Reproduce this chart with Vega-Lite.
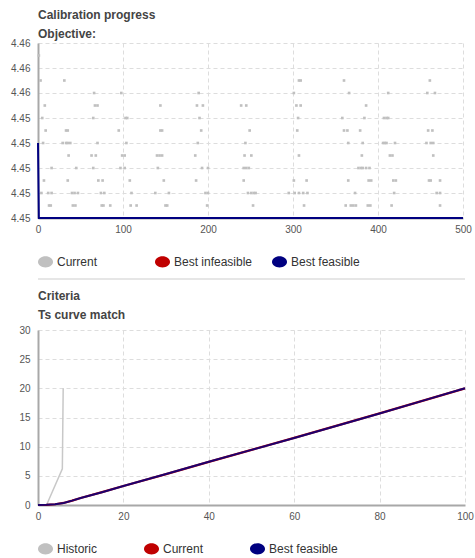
{
  "$schema": "https://vega.github.io/schema/vega-lite/v6.json",
  "padding": {"left": 10, "top": 9, "right": 5, "bottom": 0},
  "background": "white",
  "config": {
    "font": "Liberation Sans",
    "view": {"stroke": null},
    "title": {"anchor": "start", "frame": "group", "fontSize": 12, "fontWeight": "bold", "color": "#444444", "subtitleFontSize": 12, "subtitleFontWeight": "bold", "subtitleColor": "#444444", "subtitleFont": "Liberation Sans", "subtitlePadding": 7, "offset": 5},
    "axis": {"title": null, "ticks": false, "labelColor": "#555555", "labelFontSize": 10, "labelOverlap": false, "labelFlush": false, "gridColor": "#dddddd", "gridDash": [4, 3], "gridWidth": 1, "domainColor": "#a8a8a8", "domainWidth": 2},
    "axisX": {"labelPadding": 6},
    "axisY": {"labelPadding": 8, "minExtent": 28, "maxExtent": 28},
    "legend": {"orient": "bottom", "direction": "horizontal", "columns": 3, "gridAlign": "all", "columnPadding": 19, "labelFontSize": 12, "labelColor": "#333333", "symbolType": "M-1,0A1,0.75,0,1,1,1,0A1,0.75,0,1,1,-1,0Z", "symbolSize": 225, "symbolStrokeWidth": 0, "symbolOpacity": 1, "offset": 20, "labelOffset": 4}
  },
  "datasets": {
    "current": [
      {"iteration": 1, "objective": 4.457, "series": "Current"},
      {"iteration": 3, "objective": 4.456, "series": "Current"},
      {"iteration": 31, "objective": 4.456, "series": "Current"},
      {"iteration": 307, "objective": 4.456, "series": "Current"},
      {"iteration": 309, "objective": 4.456, "series": "Current"},
      {"iteration": 360, "objective": 4.456, "series": "Current"},
      {"iteration": 461, "objective": 4.456, "series": "Current"},
      {"iteration": 66, "objective": 4.4555, "series": "Current"},
      {"iteration": 98, "objective": 4.4555, "series": "Current"},
      {"iteration": 189, "objective": 4.4555, "series": "Current"},
      {"iteration": 301, "objective": 4.4555, "series": "Current"},
      {"iteration": 366, "objective": 4.4555, "series": "Current"},
      {"iteration": 412, "objective": 4.4555, "series": "Current"},
      {"iteration": 458, "objective": 4.4555, "series": "Current"},
      {"iteration": 467, "objective": 4.4555, "series": "Current"},
      {"iteration": 8, "objective": 4.455, "series": "Current"},
      {"iteration": 67, "objective": 4.455, "series": "Current"},
      {"iteration": 70, "objective": 4.455, "series": "Current"},
      {"iteration": 144, "objective": 4.455, "series": "Current"},
      {"iteration": 187, "objective": 4.455, "series": "Current"},
      {"iteration": 194, "objective": 4.455, "series": "Current"},
      {"iteration": 239, "objective": 4.455, "series": "Current"},
      {"iteration": 245, "objective": 4.455, "series": "Current"},
      {"iteration": 304, "objective": 4.455, "series": "Current"},
      {"iteration": 309, "objective": 4.455, "series": "Current"},
      {"iteration": 386, "objective": 4.455, "series": "Current"},
      {"iteration": 5, "objective": 4.4545, "series": "Current"},
      {"iteration": 65, "objective": 4.4545, "series": "Current"},
      {"iteration": 103, "objective": 4.4545, "series": "Current"},
      {"iteration": 105, "objective": 4.4545, "series": "Current"},
      {"iteration": 190, "objective": 4.4545, "series": "Current"},
      {"iteration": 306, "objective": 4.4545, "series": "Current"},
      {"iteration": 358, "objective": 4.4545, "series": "Current"},
      {"iteration": 384, "objective": 4.4545, "series": "Current"},
      {"iteration": 407, "objective": 4.4545, "series": "Current"},
      {"iteration": 410, "objective": 4.4545, "series": "Current"},
      {"iteration": 412, "objective": 4.4545, "series": "Current"},
      {"iteration": 9, "objective": 4.454, "series": "Current"},
      {"iteration": 33, "objective": 4.454, "series": "Current"},
      {"iteration": 35, "objective": 4.454, "series": "Current"},
      {"iteration": 95, "objective": 4.454, "series": "Current"},
      {"iteration": 144, "objective": 4.454, "series": "Current"},
      {"iteration": 146, "objective": 4.454, "series": "Current"},
      {"iteration": 192, "objective": 4.454, "series": "Current"},
      {"iteration": 249, "objective": 4.454, "series": "Current"},
      {"iteration": 305, "objective": 4.454, "series": "Current"},
      {"iteration": 360, "objective": 4.454, "series": "Current"},
      {"iteration": 364, "objective": 4.454, "series": "Current"},
      {"iteration": 379, "objective": 4.454, "series": "Current"},
      {"iteration": 459, "objective": 4.454, "series": "Current"},
      {"iteration": 464, "objective": 4.454, "series": "Current"},
      {"iteration": 6, "objective": 4.4535, "series": "Current"},
      {"iteration": 29, "objective": 4.4535, "series": "Current"},
      {"iteration": 33, "objective": 4.4535, "series": "Current"},
      {"iteration": 35, "objective": 4.4535, "series": "Current"},
      {"iteration": 38, "objective": 4.4535, "series": "Current"},
      {"iteration": 70, "objective": 4.4535, "series": "Current"},
      {"iteration": 104, "objective": 4.4535, "series": "Current"},
      {"iteration": 188, "objective": 4.4535, "series": "Current"},
      {"iteration": 244, "objective": 4.4535, "series": "Current"},
      {"iteration": 365, "objective": 4.4535, "series": "Current"},
      {"iteration": 382, "objective": 4.4535, "series": "Current"},
      {"iteration": 406, "objective": 4.4535, "series": "Current"},
      {"iteration": 408, "objective": 4.4535, "series": "Current"},
      {"iteration": 410, "objective": 4.4535, "series": "Current"},
      {"iteration": 420, "objective": 4.4535, "series": "Current"},
      {"iteration": 457, "objective": 4.4535, "series": "Current"},
      {"iteration": 462, "objective": 4.4535, "series": "Current"},
      {"iteration": 465, "objective": 4.4535, "series": "Current"},
      {"iteration": 36, "objective": 4.453, "series": "Current"},
      {"iteration": 63, "objective": 4.453, "series": "Current"},
      {"iteration": 68, "objective": 4.453, "series": "Current"},
      {"iteration": 99, "objective": 4.453, "series": "Current"},
      {"iteration": 102, "objective": 4.453, "series": "Current"},
      {"iteration": 140, "objective": 4.453, "series": "Current"},
      {"iteration": 143, "objective": 4.453, "series": "Current"},
      {"iteration": 146, "objective": 4.453, "series": "Current"},
      {"iteration": 185, "objective": 4.453, "series": "Current"},
      {"iteration": 243, "objective": 4.453, "series": "Current"},
      {"iteration": 251, "objective": 4.453, "series": "Current"},
      {"iteration": 307, "objective": 4.453, "series": "Current"},
      {"iteration": 381, "objective": 4.453, "series": "Current"},
      {"iteration": 414, "objective": 4.453, "series": "Current"},
      {"iteration": 417, "objective": 4.453, "series": "Current"},
      {"iteration": 465, "objective": 4.453, "series": "Current"},
      {"iteration": 16, "objective": 4.4525, "series": "Current"},
      {"iteration": 45, "objective": 4.4525, "series": "Current"},
      {"iteration": 65, "objective": 4.4525, "series": "Current"},
      {"iteration": 97, "objective": 4.4525, "series": "Current"},
      {"iteration": 102, "objective": 4.4525, "series": "Current"},
      {"iteration": 141, "objective": 4.4525, "series": "Current"},
      {"iteration": 193, "objective": 4.4525, "series": "Current"},
      {"iteration": 200, "objective": 4.4525, "series": "Current"},
      {"iteration": 242, "objective": 4.4525, "series": "Current"},
      {"iteration": 245, "objective": 4.4525, "series": "Current"},
      {"iteration": 248, "objective": 4.4525, "series": "Current"},
      {"iteration": 377, "objective": 4.4525, "series": "Current"},
      {"iteration": 380, "objective": 4.4525, "series": "Current"},
      {"iteration": 382, "objective": 4.4525, "series": "Current"},
      {"iteration": 386, "objective": 4.4525, "series": "Current"},
      {"iteration": 390, "objective": 4.4525, "series": "Current"},
      {"iteration": 7, "objective": 4.452, "series": "Current"},
      {"iteration": 35, "objective": 4.452, "series": "Current"},
      {"iteration": 71, "objective": 4.452, "series": "Current"},
      {"iteration": 76, "objective": 4.452, "series": "Current"},
      {"iteration": 108, "objective": 4.452, "series": "Current"},
      {"iteration": 148, "objective": 4.452, "series": "Current"},
      {"iteration": 186, "objective": 4.452, "series": "Current"},
      {"iteration": 242, "objective": 4.452, "series": "Current"},
      {"iteration": 301, "objective": 4.452, "series": "Current"},
      {"iteration": 316, "objective": 4.452, "series": "Current"},
      {"iteration": 365, "objective": 4.452, "series": "Current"},
      {"iteration": 389, "objective": 4.452, "series": "Current"},
      {"iteration": 392, "objective": 4.452, "series": "Current"},
      {"iteration": 418, "objective": 4.452, "series": "Current"},
      {"iteration": 421, "objective": 4.452, "series": "Current"},
      {"iteration": 460, "objective": 4.452, "series": "Current"},
      {"iteration": 462, "objective": 4.452, "series": "Current"},
      {"iteration": 473, "objective": 4.452, "series": "Current"},
      {"iteration": 4, "objective": 4.4515, "series": "Current"},
      {"iteration": 12, "objective": 4.4515, "series": "Current"},
      {"iteration": 16, "objective": 4.4515, "series": "Current"},
      {"iteration": 40, "objective": 4.4515, "series": "Current"},
      {"iteration": 43, "objective": 4.4515, "series": "Current"},
      {"iteration": 47, "objective": 4.4515, "series": "Current"},
      {"iteration": 74, "objective": 4.4515, "series": "Current"},
      {"iteration": 78, "objective": 4.4515, "series": "Current"},
      {"iteration": 110, "objective": 4.4515, "series": "Current"},
      {"iteration": 138, "objective": 4.4515, "series": "Current"},
      {"iteration": 154, "objective": 4.4515, "series": "Current"},
      {"iteration": 197, "objective": 4.4515, "series": "Current"},
      {"iteration": 200, "objective": 4.4515, "series": "Current"},
      {"iteration": 247, "objective": 4.4515, "series": "Current"},
      {"iteration": 251, "objective": 4.4515, "series": "Current"},
      {"iteration": 254, "objective": 4.4515, "series": "Current"},
      {"iteration": 256, "objective": 4.4515, "series": "Current"},
      {"iteration": 295, "objective": 4.4515, "series": "Current"},
      {"iteration": 302, "objective": 4.4515, "series": "Current"},
      {"iteration": 307, "objective": 4.4515, "series": "Current"},
      {"iteration": 312, "objective": 4.4515, "series": "Current"},
      {"iteration": 317, "objective": 4.4515, "series": "Current"},
      {"iteration": 373, "objective": 4.4515, "series": "Current"},
      {"iteration": 419, "objective": 4.4515, "series": "Current"},
      {"iteration": 469, "objective": 4.4515, "series": "Current"},
      {"iteration": 473, "objective": 4.4515, "series": "Current"},
      {"iteration": 13, "objective": 4.451, "series": "Current"},
      {"iteration": 15, "objective": 4.451, "series": "Current"},
      {"iteration": 41, "objective": 4.451, "series": "Current"},
      {"iteration": 44, "objective": 4.451, "series": "Current"},
      {"iteration": 75, "objective": 4.451, "series": "Current"},
      {"iteration": 77, "objective": 4.451, "series": "Current"},
      {"iteration": 85, "objective": 4.451, "series": "Current"},
      {"iteration": 109, "objective": 4.451, "series": "Current"},
      {"iteration": 116, "objective": 4.451, "series": "Current"},
      {"iteration": 150, "objective": 4.451, "series": "Current"},
      {"iteration": 152, "objective": 4.451, "series": "Current"},
      {"iteration": 199, "objective": 4.451, "series": "Current"},
      {"iteration": 253, "objective": 4.451, "series": "Current"},
      {"iteration": 313, "objective": 4.451, "series": "Current"},
      {"iteration": 362, "objective": 4.451, "series": "Current"},
      {"iteration": 368, "objective": 4.451, "series": "Current"},
      {"iteration": 371, "objective": 4.451, "series": "Current"},
      {"iteration": 374, "objective": 4.451, "series": "Current"},
      {"iteration": 388, "objective": 4.451, "series": "Current"},
      {"iteration": 391, "objective": 4.451, "series": "Current"},
      {"iteration": 416, "objective": 4.451, "series": "Current"},
      {"iteration": 473, "objective": 4.451, "series": "Current"}
    ],
    "bestObjective": [
      {"iteration": 0, "objective": 4.4535, "series": "Best feasible"},
      {"iteration": 1, "objective": 4.4505, "series": "Best feasible"},
      {"iteration": 500, "objective": 4.4505, "series": "Best feasible"}
    ],
    "tsCurve": [
      {"x": 2, "y": 0, "series": "Historic"},
      {"x": 5.7, "y": 6.2, "series": "Historic"},
      {"x": 5.9, "y": 20, "series": "Historic"},
      {"x": 0, "y": 0, "series": "Current"},
      {"x": 2, "y": 0.03, "series": "Current"},
      {"x": 4, "y": 0.13, "series": "Current"},
      {"x": 6, "y": 0.35, "series": "Current"},
      {"x": 8, "y": 0.75, "series": "Current"},
      {"x": 10, "y": 1.2, "series": "Current"},
      {"x": 15, "y": 2.2, "series": "Current"},
      {"x": 20, "y": 3.25, "series": "Current"},
      {"x": 30, "y": 5.3, "series": "Current"},
      {"x": 40, "y": 7.4, "series": "Current"},
      {"x": 50, "y": 9.45, "series": "Current"},
      {"x": 60, "y": 11.5, "series": "Current"},
      {"x": 70, "y": 13.6, "series": "Current"},
      {"x": 80, "y": 15.7, "series": "Current"},
      {"x": 90, "y": 17.85, "series": "Current"},
      {"x": 100, "y": 20, "series": "Current"},
      {"x": 0, "y": 0, "series": "Best feasible"},
      {"x": 2, "y": 0.03, "series": "Best feasible"},
      {"x": 4, "y": 0.13, "series": "Best feasible"},
      {"x": 6, "y": 0.35, "series": "Best feasible"},
      {"x": 8, "y": 0.75, "series": "Best feasible"},
      {"x": 10, "y": 1.2, "series": "Best feasible"},
      {"x": 15, "y": 2.2, "series": "Best feasible"},
      {"x": 20, "y": 3.25, "series": "Best feasible"},
      {"x": 30, "y": 5.3, "series": "Best feasible"},
      {"x": 40, "y": 7.4, "series": "Best feasible"},
      {"x": 50, "y": 9.45, "series": "Best feasible"},
      {"x": 60, "y": 11.5, "series": "Best feasible"},
      {"x": 70, "y": 13.6, "series": "Best feasible"},
      {"x": 80, "y": 15.7, "series": "Best feasible"},
      {"x": 90, "y": 17.85, "series": "Best feasible"},
      {"x": 100, "y": 20, "series": "Best feasible"}
    ]
  },
  "vconcat": [
    {
      "title": {"text": "Calibration progress", "subtitle": "Objective:", "offset": -3},
      "width": 425,
      "height": 175,
      "layer": [
        {
          "data": {"name": "current"},
          "mark": {"type": "square", "size": 7, "opacity": 1},
          "encoding": {
            "x": {"field": "iteration", "type": "quantitative", "scale": {"domain": [0, 500]}, "axis": {"values": [0, 100, 200, 300, 400, 500], "tickCount": 12}},
            "y": {"field": "objective", "type": "quantitative", "scale": {"domain": [4.4505, 4.4575], "zero": false}, "axis": {"values": [4.4505, 4.4515, 4.4525, 4.4535, 4.4545, 4.45551, 4.4565, 4.4575], "tickCount": 12, "format": ".2f", "labelOverlap": false}},
            "fill": {"field": "series", "type": "nominal", "scale": {"domain": ["Current", "Best infeasible", "Best feasible"], "range": ["#c0c0c0", "#c00000", "#000080"]}, "legend": {"title": null, "columnPadding": 19}}
          }
        },
        {
          "data": {"name": "bestObjective"},
          "mark": {"type": "line", "strokeWidth": 2, "color": "#000080"},
          "encoding": {
            "x": {"field": "iteration", "type": "quantitative"},
            "y": {"field": "objective", "type": "quantitative"}
          }
        }
      ]
    },
    {
      "width": 427,
      "height": 1,
      "data": {"values": [{"separator": 1}]},
      "mark": {"type": "rule", "color": "#e6e6e6", "strokeWidth": 2},
      "encoding": {
        "y": {"datum": 0, "type": "quantitative", "axis": {"labels": false, "domain": false, "grid": false, "ticks": false, "minExtent": 28, "maxExtent": 28}}
      }
    },
    {
      "title": {"text": "Criteria", "subtitle": "Ts curve match", "offset": 3},
      "width": 427,
      "height": 175,
      "data": {"name": "tsCurve"},
      "encoding": {
        "x": {"field": "x", "type": "quantitative", "scale": {"domain": [0, 100]}, "axis": {"values": [0, 20, 40, 60, 80, 100], "tickCount": 12}},
        "y": {"field": "y", "type": "quantitative", "scale": {"domain": [0, 30]}, "axis": {"values": [0, 5, 10, 15, 20, 25, 30], "tickCount": 12}}
      },
      "layer": [
        {
          "transform": [{"filter": "datum.series === 'Historic'"}],
          "mark": {"type": "line", "strokeWidth": 1.5, "color": "#c8c8c8"}
        },
        {
          "transform": [{"filter": "datum.series === 'Current'"}],
          "mark": {"type": "line", "strokeWidth": 2.2, "color": "#c00000"}
        },
        {
          "transform": [{"filter": "datum.series === 'Best feasible'"}],
          "mark": {"type": "line", "strokeWidth": 2, "color": "#000080", "strokeOpacity": 0.85}
        },
        {
          "mark": {"type": "point", "size": 0, "filled": true, "opacity": 1},
          "encoding": {
            "fill": {"field": "series", "type": "nominal", "scale": {"domain": ["Historic", "Current", "Best feasible"], "range": ["#c0c0c0", "#c00000", "#000080"]}, "legend": {"title": null, "columnPadding": 18, "offset": 20}}
          }
        }
      ]
    }
  ],
  "spacing": 10,
  "resolve": {"scale": {"fill": "independent", "stroke": "independent"}, "legend": {"fill": "independent"}}
}
